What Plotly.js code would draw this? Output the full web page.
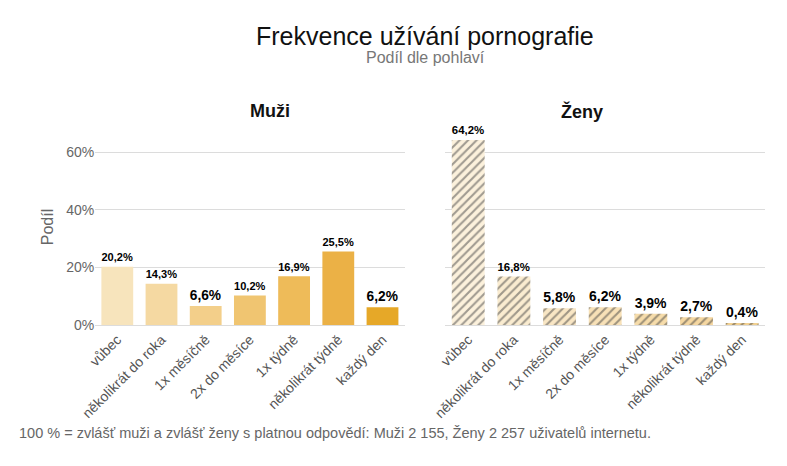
<!DOCTYPE html>
<html><head><meta charset="utf-8">
<script src="https://cdn.plot.ly/plotly-3.0.1.min.js"></script>
<style>body{margin:0}</style></head>
<body><div id="chart" style="width:787px;height:466px"></div>
<script>
var categories = ["vůbec","několikrát do roka","1x měsíčně","2x do měsíce","1x týdně","několikrát týdně","každý den"];
var muzi = [20.2, 14.3, 6.6, 10.2, 16.9, 25.5, 6.2];
var zeny = [64.2, 16.8, 5.8, 6.2, 3.9, 2.7, 0.4];
var colors = ["#f7e4bc","#f5d9a2","#f3cf8a","#f0c571","#eebb59","#ebb146","#e6a828"];
var lightColors = ["#fcf1dc","#faecd0","#f9e6c4","#f8e1b7","#f6dcaa","#f5d7a1","#f2d192"];

function fmt(v){ return v.toFixed(1).replace(".", ",") + "%"; }

var trace1 = {
  x: categories, y: muzi, type: 'bar', xaxis: 'x', yaxis: 'y',
  marker: {color: colors},
  text: muzi.map(fmt), textposition: 'outside', cliponaxis: false,
  textfont: {family: 'Liberation Sans', size: 14, color: '#000', weight: 'bold'},
  width: 0.72, hoverinfo: 'none'
};
var trace2 = {
  x: categories, y: zeny, type: 'bar', xaxis: 'x2', yaxis: 'y2',
  marker: {color: lightColors, pattern: {shape: '/', fillmode: 'overlay', fgcolor: '#ffffff', size: 6, solidity: 0.35},
           line: {width: 0}},
  text: zeny.map(fmt), textposition: 'outside', cliponaxis: false,
  textfont: {family: 'Liberation Sans', size: 14, color: '#000', weight: 'bold'},
  width: 0.72, hoverinfo: 'none'
};

var yax = {range: [0, 68], tickvals: [0,20,40,60], ticktext: ["0%","20%","40%","60%"],
  gridcolor: '#dcdcdc', zeroline: false, tickfont: {size: 14, color: '#666'}};
var xax = {tickangle: -45, tickfont: {size: 14, color: '#555'}, showgrid: false, showline: true, linecolor: '#dcdcdc'};

var layout = {
  font: {family: 'Liberation Sans', color: '#333'},
  showlegend: false,
  margin: {l: 85, r: 22, t: 129, b: 141},
  plot_bgcolor: '#fff', paper_bgcolor: '#fff',
  xaxis: Object.assign({domain: [0.015, 0.47], anchor: 'y'}, xax),
  xaxis2: Object.assign({domain: [0.53, 1], anchor: 'y2'}, xax),
  yaxis: Object.assign({anchor: 'x', title: {text: 'Podíl', font: {size: 16, color: '#666'}}}, yax),
  yaxis2: Object.assign({anchor: 'x2', showticklabels: false}, yax),
  annotations: [
    {text: 'Frekvence užívání pornografie', xref: 'paper', yref: 'paper', x: 0.5, y: 1, yshift: 109, showarrow: false, font: {size: 25, color: '#111'}},
    {text: 'Podíl dle pohlaví', xref: 'paper', yref: 'paper', x: 0.5, y: 1, yshift: 82, showarrow: false, font: {size: 16, color: '#777'}},
    {text: '<b>Muži</b>', xref: 'paper', yref: 'paper', x: 0.24, y: 1, yshift: 30, showarrow: false, font: {size: 18, color: '#111'}},
    {text: '<b>Ženy</b>', xref: 'paper', yref: 'paper', x: 0.765, y: 1, yshift: 30, showarrow: false, font: {size: 18, color: '#111'}},
    {text: '100 % = zvlášť muži a zvlášť ženy s platnou odpovědí: Muži 2 155, Ženy 2 257 uživatelů internetu.', xref: 'paper', yref: 'paper', x: -0.1, xanchor: 'left', y: 0, yshift: -118, showarrow: false, font: {size: 14.5, color: '#666'}}
  ]
};
Plotly.newPlot('chart', [trace1, trace2], layout, {displayModeBar: false});
</script></body></html>
